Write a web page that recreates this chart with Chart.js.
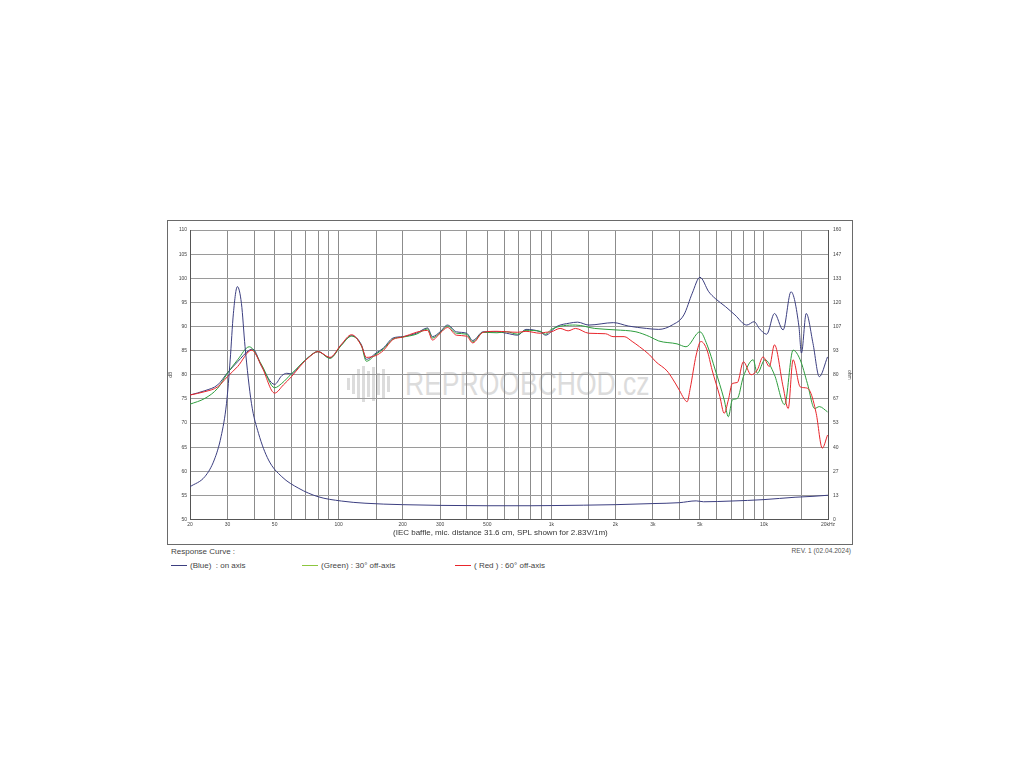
<!DOCTYPE html>
<html>
<head>
<meta charset="utf-8">
<script src="https://cdn.jsdelivr.net/npm/chart.js@4.4.1/dist/chart.umd.min.js"></script>
<style>
  body { margin: 0; background: #fff; font-family: "Liberation Sans", Arial, sans-serif; }
  #frame { position: absolute; left: 167px; top: 220px; width: 684px; height: 323px; border: 1.5px solid #6a6a6a; }
  #wm { position: absolute; left: 405px; top: 364px; font-size: 34px; color: #dcdcdc; transform: scaleX(0.78); transform-origin: left top; white-space: nowrap; }
  #wmIcon { position: absolute; left: 347px; top: 366px; height: 36px; width: 50px; }
  #wmIcon span { position: absolute; bottom: 0; width: 3px; background: #dcdcdc; }
  canvas { position: absolute; left: 168px; top: 222px; }
  .txt { position: absolute; color: #333; white-space: nowrap; }
  .leg { position: absolute; top: 561px; font-size: 8px; color: #444; white-space: nowrap; }
  .leg i { display: inline-block; width: 16px; height: 0; border-top: 1px solid; vertical-align: middle; margin-right: 3px; }
</style>
</head>
<body>
<div id="frame"></div>
<div id="wmIcon">
  <span style="left:0;height:12px;bottom:12px"></span><span style="left:5px;height:20px;bottom:8px"></span>
  <span style="left:10px;height:30px;bottom:3px"></span><span style="left:15px;height:36px;bottom:0"></span>
  <span style="left:20px;height:26px;bottom:5px"></span><span style="left:25px;height:34px;bottom:1px"></span>
  <span style="left:30px;height:22px;bottom:7px"></span><span style="left:35px;height:30px;bottom:3px"></span>
  <span style="left:40px;height:16px;bottom:10px"></span>
</div>
<div id="wm">REPROOBCHOD.cz</div>
<canvas id="fr" width="684" height="308"></canvas>
<div class="txt" style="left:393px;top:528px;font-size:8px;">(IEC baffle, mic. distance 31.6 cm, SPL shown for 2.83V/1m)</div>
<div class="txt" style="left:171px;top:547px;font-size:8px;color:#444;">Response Curve :</div>
<div class="txt" style="right:173px;top:547px;font-size:6.6px;color:#555;">REV. 1 (02.04.2024)</div>
<div class="leg" style="left:171px;"><i style="border-color:#3c3f80"></i>(Blue)&nbsp; : on axis</div>
<div class="leg" style="left:302px;"><i style="border-color:#8cc63f"></i>(Green) : 30° off-axis</div>
<div class="leg" style="left:455px;"><i style="border-color:#e8262c"></i>( Red ) : 60° off-axis</div>
<script>
// frequency axis
const gridFreqs = [20, 30, 40, 50, 60, 70, 80, 90, 100, 150, 200, 300, 400, 500, 600, 700, 800, 900,
  1000, 1500, 2000, 3000, 4000, 5000, 6000, 7000, 8000, 9000, 10000, 15000, 20000];
const xTickFreqs = [20, 30, 50, 100, 200, 300, 500, 1000, 2000, 3000, 5000, 10000, 20000];
const xTickLabels = ['20', '30', '50', '100', '200', '300', '500', '1k', '2k', '3k', '5k', '10k', '20kHz'];

// on axis SPL (dB)
const freqOn = [20, 23.5, 27, 30, 33.5, 38, 39.5, 43.5, 50, 54, 57, 60, 66, 72, 80, 91, 103, 115, 128, 135,
  150, 162, 180, 200, 232, 262, 276, 300, 325, 358, 400, 427, 478, 555, 616, 695, 760, 888, 940,
  1060, 1220, 1330, 1500, 1960, 2300, 2800, 3200, 3700, 4200, 4600, 5000, 5500, 5900, 6600, 7300,
  8300, 9000, 9500, 10300, 11200, 12300, 13400, 14600, 15000, 15800, 17000, 18200, 19900];
const splOn = [75.8, 76.7, 77.9, 80.4, 82.7, 85.1, 85.3, 81.7, 78.0, 79.8, 80.3, 80.2, 82.0, 83.6, 84.8, 83.5,
  86.2, 88.1, 86.2, 83.2, 84.5, 85.5, 87.6, 87.9, 88.6, 89.7, 87.9, 88.9, 90.3, 88.9, 88.6, 87.1, 88.9,
  88.9, 88.6, 88.2, 89.4, 88.9, 88.2, 90.0, 90.7, 90.9, 90.3, 90.8, 90.1, 89.6, 89.4, 90.3, 92.4, 96.9,
  100.2, 97.2, 95.8, 94.1, 92.4, 90.3, 91.0, 89.6, 88.4, 92.7, 89.3, 97.2, 90.0, 84.5, 92.7, 86.5, 79.6, 83.7];

// 30 deg off axis SPL (dB)
const freq30 = [20, 23.5, 27, 30, 33.5, 38, 43.5, 50, 54, 60, 66, 72, 80, 91, 103, 115, 128, 135, 150, 162,
  180, 200, 232, 262, 276, 300, 325, 358, 400, 427, 478, 555, 616, 695, 760, 888, 940, 1000, 1300,
  1600, 2000, 2500, 2900, 3200, 3900, 4300, 5000, 5400, 5900, 6500, 6800, 7100, 7500, 8000, 8900,
  9300, 10100, 11200, 12500, 13700, 14800, 16000, 17300, 18200, 19900];
const spl30 = [73.9, 75.1, 77.2, 80.3, 83.1, 85.8, 82.0, 77.3, 78.2, 80.2, 82.0, 83.6, 84.8, 83.4, 86.1, 88.0,
  86.0, 82.8, 84.3, 85.3, 87.4, 87.8, 88.4, 89.5, 87.6, 88.7, 90.1, 88.6, 88.4, 86.8, 88.8, 88.7, 88.9,
  88.4, 89.2, 89.0, 88.4, 89.4, 90.3, 89.6, 89.3, 88.9, 87.9, 87.0, 86.4, 85.8, 88.9, 86.2, 81.0, 74.8,
  71.3, 74.8, 75.1, 79.6, 83.1, 80.3, 83.1, 80.0, 73.8, 85.1, 83.1, 78.2, 73.0, 73.4, 72.3];

// 60 deg off axis SPL (dB)
const freq60 = [20, 23.5, 27, 30, 33.5, 39, 43.5, 50, 55, 60, 66, 72, 80, 91, 103, 115, 128, 135, 150, 162,
  180, 200, 232, 262, 276, 300, 325, 358, 400, 427, 478, 555, 616, 695, 760, 888, 940, 1000, 1100,
  1200, 1300, 1500, 1800, 1950, 2200, 2400, 2600, 2900, 3100, 3500, 3700, 4000, 4200, 4350, 4500,
  4800, 5050, 5400, 5700, 6200, 6500, 6800, 7100, 7500, 8000, 8700, 9300, 9900, 10600, 11200,
  12300, 13000, 13700, 14800, 15600, 16500, 17600, 18800, 19900];
const spl60 = [75.8, 76.5, 77.5, 79.6, 81.7, 85.1, 81.7, 76.2, 77.9, 79.6, 81.8, 83.5, 84.8, 83.6, 86.3, 88.3,
  86.0, 83.6, 84.0, 85.0, 87.3, 87.8, 88.8, 89.2, 87.2, 88.6, 89.8, 88.2, 88.0, 86.6, 88.8, 89.0, 88.9,
  88.8, 89.0, 88.6, 88.8, 88.9, 89.6, 89.1, 89.6, 88.6, 88.5, 87.9, 87.9, 86.9, 85.8, 84.1, 82.7, 80.8,
  79.3, 76.8, 75.1, 74.4, 77.2, 84.1, 86.9, 85.1, 81.0, 75.5, 72.0, 74.8, 78.2, 78.4, 82.7, 80.0, 81.0,
  83.7, 81.7, 86.2, 77.5, 73.0, 83.1, 77.5, 77.3, 76.5, 72.0, 64.8, 67.5];

// impedance (ohm, right axis)
const freqImp = [20, 23.5, 26, 28, 29.7, 30.9, 32, 33.4, 34.9, 36.3, 38.9, 42, 46.8, 54, 65, 80, 103, 133,
  200, 300, 500, 800, 1000, 2000, 3000, 4000, 4800, 5200, 7000, 10000, 14000, 17000, 20000];
const impOn = [18.1, 23.7, 32.9, 45.8, 64.2, 88.2, 114, 128.7, 119.5, 95.5, 64.2, 47.6, 32.9, 23.7, 17.2,
  12.6, 10.2, 9.0, 8.2, 7.8, 7.6, 7.6, 7.7, 8.2, 8.8, 9.3, 10.3, 9.8, 10.2, 11.0, 12.3, 12.8, 13.4];

const pts = (xs, ys) => xs.map((f, i) => ({ x: f, y: ys[i] }));
const tickFont = { family: 'Liberation Sans', size: 5 };

new Chart(document.getElementById('fr'), {
  type: 'line',
  data: {
    datasets: [
      { label: 'Impedance', data: pts(freqImp, impOn), yAxisID: 'y1', borderColor: '#3c3f80' },
      { label: '60° off-axis', data: pts(freq60, spl60), yAxisID: 'y', borderColor: '#e8262c' },
      { label: '30° off-axis', data: pts(freq30, spl30), yAxisID: 'y', borderColor: '#2e9e3e' },
      { label: 'on axis', data: pts(freqOn, splOn), yAxisID: 'y', borderColor: '#3c3f80' }
    ]
  },
  options: {
    responsive: false,
    animation: false,
    devicePixelRatio: 1,
    layout: { padding: { top: 8 } },
    elements: {
      point: { radius: 0 },
      line: { borderWidth: 1, cubicInterpolationMode: 'monotone' }
    },
    plugins: { legend: { display: false }, tooltip: { enabled: false } },
    scales: {
      x: {
        type: 'logarithmic',
        min: 20,
        max: 20000,
        afterBuildTicks: s => { s.ticks = gridFreqs.map(v => ({ value: v })); },
        afterFit: s => { s.height = 10.5; },
        ticks: {
          autoSkip: false, maxRotation: 0, padding: 2, color: '#444', font: tickFont,
          callback: v => { const i = xTickFreqs.indexOf(v); return i >= 0 ? xTickLabels[i] : ''; }
        },
        grid: { color: '#8c8c8c', drawTicks: false },
        border: { color: '#555' }
      },
      y: {
        position: 'left',
        min: 50,
        max: 110,
        afterFit: s => { s.width = 22; },
        ticks: { stepSize: 5, padding: 3, color: '#444', font: tickFont },
        title: { display: true, text: 'dB', color: '#444', font: tickFont, padding: 0 },
        grid: { color: '#9a9a9a', drawTicks: false },
        border: { color: '#555' }
      },
      y1: {
        position: 'right',
        min: 0,
        max: 160,
        afterBuildTicks: s => { s.ticks = Array.from({ length: 13 }, (_, i) => ({ value: i * 160 / 12 })); },
        afterFit: s => { s.width = 24; },
        ticks: { padding: 5, color: '#444', font: tickFont, callback: v => Math.round(v) },
        title: { display: true, text: 'ohm', color: '#444', font: tickFont, padding: 0 },
        grid: { drawOnChartArea: false, drawTicks: false },
        border: { color: '#555' }
      }
    }
  }
});
</script>
</body>
</html>
